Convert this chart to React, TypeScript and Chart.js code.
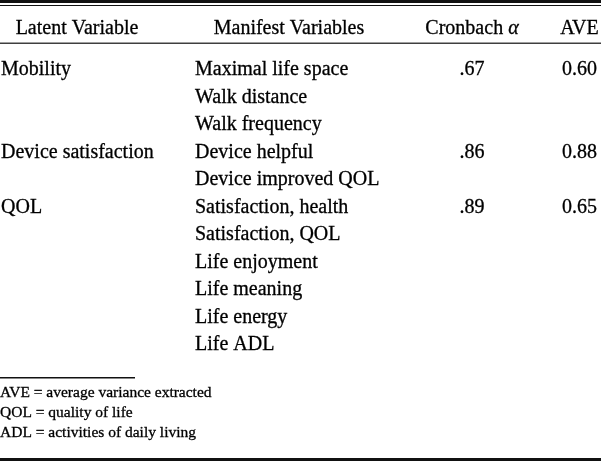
import React, { useEffect, useRef } from "react";
import { Chart, registerables } from "chart.js";

Chart.register(...registerables);

// ---------- data ----------
const headers = ["Latent Variable", "Manifest Variables", "Cronbach α", "AVE"];
const latentVariables = ["Mobility", "Device satisfaction", "QOL"];
const manifestVariables = [
  ["Maximal life space", "Walk distance", "Walk frequency"],
  ["Device helpful", "Device improved QOL"],
  ["Satisfaction, health", "Satisfaction, QOL", "Life enjoyment", "Life meaning", "Life energy", "Life ADL"],
];
const cronbachAlpha = [0.67, 0.86, 0.89];
const averageVarianceExtracted = [0.6, 0.88, 0.65];
const footnotes = [
  "AVE = average variance extracted",
  "QOL = quality of life",
  "ADL = activities of daily living",
];

// ---------- layout (scale units = page pixels) ----------
const W = 601;
const H = 461;
const FONT = '"Liberation Serif", "Times New Roman", serif';
const BODY_SIZE = 20;
const NOTE_SIZE = 15.5;
const HEADER_BASE = 34;
const ROW0_BASE = 75;
const ROW_PITCH = 27.5;
const NOTE0_BASE = 397;
const NOTE_PITCH = 20.2;
const COL = {
  latentHeaderCenter: 77,
  latentLeft: 1,
  manifestHeaderCenter: 289,
  manifestLeft: 195,
  alphaCenter: 472,
  aveCenter: 579.5,
};
const INK = "#000000";

const fmtAlpha = (v: number) => v.toFixed(2).replace(/^0/, "");
const fmtAve = (v: number) => v.toFixed(2);

const tablePlugin = {
  id: "tableDraw",
  afterDraw(chart: any) {
    const ctx = chart.ctx as CanvasRenderingContext2D;
    const xs = chart.scales.x;
    const ys = chart.scales.y;
    const px = (v: number) => xs.getPixelForValue(v);
    const py = (v: number) => ys.getPixelForValue(v);
    ctx.save();
    ctx.fillStyle = "#111";
    const rule = (x0: number, x1: number, y0: number, y1: number) => {
      const a = py(y0), b = py(y1);
      ctx.fillRect(px(x0), Math.min(a, b), px(x1) - px(x0), Math.abs(b - a));
    };
    // rules
    rule(0, W, 0, 3);
    rule(0, W, 5, 6);
    rule(0, W, 42.6, 43.8);
    rule(0, 135, 377, 378.5);
    rule(0, W, 458, 461);

    ctx.fillStyle = INK;
    ctx.strokeStyle = INK;
    ctx.lineWidth = 0.3;
    ctx.textBaseline = "alphabetic";
    const body = `${BODY_SIZE}px ${FONT}`;
    const put = (s: string, x: number, y: number) => {
      ctx.fillText(s, x, y);
      ctx.strokeText(s, x, y);
    };
    const text = (s: string, x: number, y: number, align: CanvasTextAlign, font = body) => {
      ctx.font = font;
      ctx.textAlign = align;
      put(s, px(x), py(y));
    };
    // header
    text(headers[0], COL.latentHeaderCenter, HEADER_BASE, "center");
    text(headers[1], COL.manifestHeaderCenter, HEADER_BASE, "center");
    {
      const parts = headers[2].split(" ");
      const a = parts[0] + " ";
      const b = parts[1];
      ctx.font = body;
      const wa = ctx.measureText(a).width;
      ctx.font = `italic ${BODY_SIZE}px ${FONT}`;
      const wb = ctx.measureText(b).width;
      const start = px(COL.alphaCenter) - (wa + wb) / 2;
      ctx.textAlign = "left";
      ctx.font = body;
      put(a, start, py(HEADER_BASE));
      ctx.font = `italic ${BODY_SIZE}px ${FONT}`;
      put(b, start + wa, py(HEADER_BASE));
    }
    text(headers[3], COL.aveCenter, HEADER_BASE, "center");

    // body
    let row = 0;
    latentVariables.forEach((lv, g) => {
      const base = ROW0_BASE + row * ROW_PITCH;
      text(lv, COL.latentLeft, base, "left");
      text(fmtAlpha(cronbachAlpha[g]), COL.alphaCenter, base, "center");
      text(fmtAve(averageVarianceExtracted[g]), COL.aveCenter, base, "center");
      manifestVariables[g].forEach((mv) => {
        text(mv, COL.manifestLeft, ROW0_BASE + row * ROW_PITCH, "left");
        row++;
      });
    });

    // footnotes
    footnotes.forEach((f, i) => {
      text(f, 0, NOTE0_BASE + i * NOTE_PITCH, "left", `${NOTE_SIZE}px ${FONT}`);
    });
    ctx.restore();
  },
};

export default function App() {
  const ref = useRef<HTMLCanvasElement>(null);
  useEffect(() => {
    document.body.style.margin = "0";
    if (!ref.current) return;
    const chart = new Chart(ref.current, {
      type: "scatter",
      data: { datasets: [{ data: [], pointRadius: 0 }] },
      options: {
        animation: false,
        responsive: false,
        layout: { padding: 0 },
        plugins: { legend: { display: false }, tooltip: { enabled: false } },
        scales: {
          x: { type: "linear", min: 0, max: W, display: false },
          y: { type: "linear", min: 0, max: H, reverse: true, display: false },
        },
      },
      plugins: [tablePlugin],
    });
    return () => chart.destroy();
  }, []);
  return (
    <div style={{ width: W, height: H, background: "#fff" }}>
      <canvas ref={ref} width={W} height={H} style={{ display: "block" }} />
    </div>
  );
}
